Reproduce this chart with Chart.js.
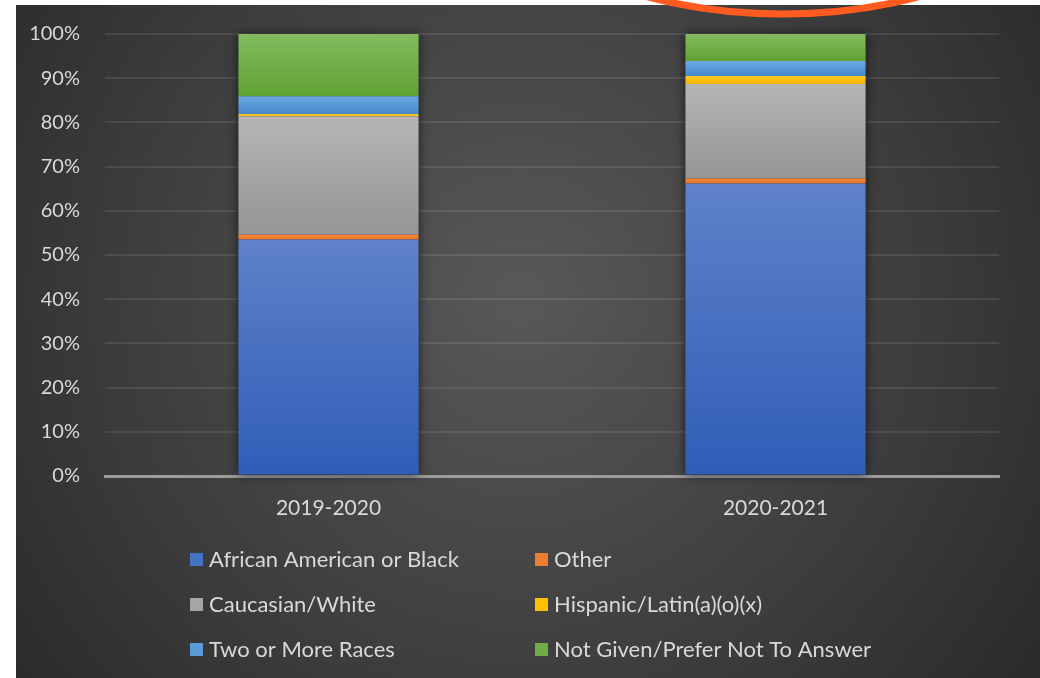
<!DOCTYPE html>
<html>
<head>
<meta charset="utf-8">
<script src="https://cdn.jsdelivr.net/npm/chart.js@4.4.1/dist/chart.umd.min.js"></script>
<style>
  html, body { margin: 0; padding: 0; background: #fff; }
  #wrap { position: relative; width: 1040px; height: 678px; }
</style>
</head>
<body>
<div id="wrap"><canvas id="raceChart" width="1040" height="678"></canvas></div>
<script>
// Chart data
const years = ['2019-2020', '2020-2021'];
const seriesNames = [
    'African American or Black',
    'Other',
    'Caucasian/White',
    'Hispanic/Latin(a)(o)(x)',
    'Two or More Races',
    'Not Given/Prefer Not To Answer'
];
const blackShare = [53.5, 66.2];
const otherShare = [1.1, 1.1];
const whiteShare = [26.8, 21.4];
const hispanicShare = [0.5, 1.8];
const multiShare = [4.0, 3.4];
const notGivenShare = [14.1, 6.1];
const yTicks = [0, 10, 20, 30, 40, 50, 60, 70, 80, 90, 100];

const seriesValues = [blackShare, otherShare, whiteShare, hispanicShare, multiShare, notGivenShare];
// top / bottom colours of each segment gradient
const seriesColors = [
    ['#5f82c9', '#2f5db7'],
    ['#f58a35', '#ea7224'],
    ['#b5b5b5', '#959595'],
    ['#ffcb2a', '#f5b400'],
    ['#6ca9e2', '#4688cb'],
    ['#82bb5f', '#60a233']
];
const legendSwatch = ['#4472c4', '#ed7d31', '#a5a5a5', '#ffc000', '#5b9bd5', '#70ad47'];

const textColor = '#d9d9d9';
const fontFamily = 'Lato, "Open Sans", sans-serif';

function segmentGradient(ctx, dsIndex) {
    const chart = ctx.chart;
    const area = chart.chartArea;
    const cols = seriesColors[dsIndex];
    if (!area || ctx.dataIndex === undefined) return cols[0];
    let start = 0;
    for (let i = 0; i < dsIndex; i++) start += seriesValues[i][ctx.dataIndex];
    const end = start + seriesValues[dsIndex][ctx.dataIndex];
    const y = chart.scales.y;
    const top = y.getPixelForValue(end);
    const bottom = y.getPixelForValue(start);
    if (!isFinite(top) || !isFinite(bottom) || top === bottom) return cols[0];
    const g = chart.ctx.createLinearGradient(0, top, 0, bottom);
    g.addColorStop(0, cols[0]);
    g.addColorStop(1, cols[1]);
    return g;
}

// page background: white margin + dark radial panel
const backdropPlugin = {
    id: 'backdrop',
    beforeDraw(chart) {
        const c = chart.ctx;
        c.save();
        c.fillStyle = '#ffffff';
        c.fillRect(0, 0, chart.width, chart.height);
        const g = c.createRadialGradient(520, 300, 20, 520, 300, 720);
        g.addColorStop(0, '#575757');
        g.addColorStop(0.55, '#3c3c3c');
        g.addColorStop(1, '#242424');
        c.fillStyle = g;
        c.fillRect(16, 5, chart.width - 16, chart.height - 5);
        c.restore();
    }
};

// soft shadow behind each full bar
const barShadowPlugin = {
    id: 'barShadow',
    beforeDatasetsDraw(chart) {
        const c = chart.ctx;
        const first = chart.getDatasetMeta(0);
        const last = chart.getDatasetMeta(chart.data.datasets.length - 1);
        c.save();
        c.shadowColor = 'rgba(0,0,0,0.6)';
        c.shadowBlur = 10;
        c.fillStyle = '#333';
        first.data.forEach((bar, i) => {
            const topBar = last.data[i];
            const w = bar.width;
            c.fillRect(bar.x - w / 2, topBar.y, w, bar.base - topBar.y);
        });
        c.restore();
    }
};

// two-column legend like the original
const legendPlugin = {
    id: 'twoColLegend',
    afterDraw(chart) {
        const c = chart.ctx;
        const colX = [190, 535];
        const rowY = [559, 604, 649];
        c.save();
        c.font = '22px ' + fontFamily;
        c.textBaseline = 'middle';
        chart.data.datasets.forEach((ds, i) => {
            const x = colX[i % 2];
            const y = rowY[Math.floor(i / 2)];
            c.fillStyle = legendSwatch[i];
            c.fillRect(x, y - 6, 13, 13);
            c.fillStyle = textColor;
            c.fillText(ds.label, x + 19, y + 1);
        });
        c.restore();
    }
};

// orange circle annotation, cropped at top of the screenshot
const annotationPlugin = {
    id: 'orangeArc',
    afterDraw(chart) {
        const c = chart.ctx;
        c.save();
        c.strokeStyle = '#ff5a1f';
        c.lineWidth = 7;
        c.beginPath();
        c.ellipse(783, -146, 300, 160, 0, 0, Math.PI * 2);
        c.stroke();
        c.restore();
    }
};

const datasets = seriesNames.map((name, i) => ({
    label: name,
    data: seriesValues[i],
    backgroundColor: (ctx) => segmentGradient(ctx, i),
    borderWidth: 0,
    barPercentage: 0.403,
    categoryPercentage: 1.0
}));

new Chart(document.getElementById('raceChart'), {
    type: 'bar',
    data: { labels: years, datasets: datasets },
    options: {
        responsive: false,
        animation: false,
        layout: { padding: { left: 16, right: 41, top: 34, bottom: 152 } },
        plugins: {
            legend: { display: false },
            tooltip: { enabled: false }
        },
        scales: {
            x: {
                stacked: true,
                grid: { display: false, drawTicks: false },
                border: { display: true, color: '#9c9c9c', width: 3 },
                ticks: {
                    color: textColor,
                    font: { family: fontFamily, size: 21 },
                    padding: 20
                },
                afterFit: (axis) => { axis.height = 50; }
            },
            y: {
                stacked: true,
                min: 0,
                max: 100,
                afterBuildTicks: (axis) => { axis.ticks = yTicks.map(v => ({ value: v })); },
                grid: {
                    drawTicks: false,
                    color: (ctx) => ctx.tick && ctx.tick.value === 0 ? '#9c9c9c' : 'rgba(255,255,255,0.09)',
                    lineWidth: (ctx) => ctx.tick && ctx.tick.value === 0 ? 3 : 2
                },
                border: { display: false },
                ticks: {
                    color: textColor,
                    font: { family: fontFamily, size: 20 },
                    padding: 25,
                    callback: (v) => v + '%'
                },
                afterFit: (axis) => {
                    axis.width = 89;
                    axis.paddingTop = 0;
                    axis.paddingBottom = 0;
                }
            }
        }
    },
    plugins: [backdropPlugin, barShadowPlugin, legendPlugin, annotationPlugin]
});
</script>
</body>
</html>
